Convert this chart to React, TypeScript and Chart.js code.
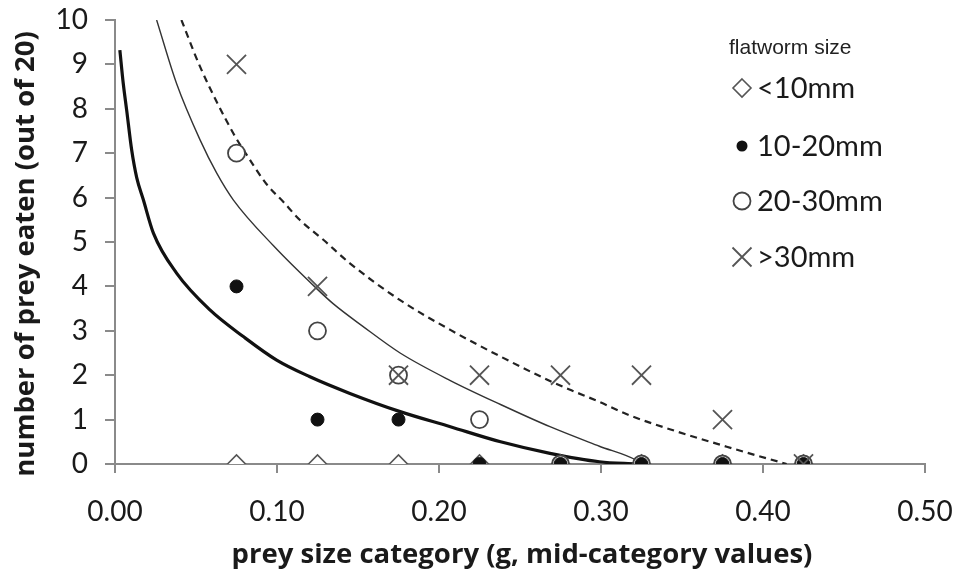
import React, { useEffect, useRef } from "react";
import { Chart, registerables } from "chart.js";

Chart.register(...registerables);

// Scatter data (prey size category mid values, g)
const preySize = [0.075, 0.125, 0.175, 0.225, 0.275, 0.325, 0.375, 0.425];
const eatenLt10 = [0, 0, 0, 0, 0, 0, 0, 0];
const eaten10to20 = [4, 1, 1, 0, 0, 0, 0, 0];
const eaten20to30 = [7, 3, 2, 1, 0, 0, 0, 0];
const eatenGt30 = [9, 4, 2, 2, 2, 2, 1, 0];

const seriesLabels = ["<10mm", "10-20mm", "20-30mm", ">30mm"];
const legendTitle = "flatworm size";
const xTitle = "prey size category (g, mid-category values)";
const yTitle = "number of prey eaten (out of 20)";

// Trend curves
const thickX = [0.003, 0.0051, 0.0072, 0.0103, 0.0134, 0.0175, 0.0237, 0.038, 0.0586, 0.0792, 0.0998, 0.12, 0.145, 0.176, 0.207, 0.238, 0.2685, 0.299, 0.322];
const thickY = [9.32, 8.57, 7.97, 7.07, 6.45, 5.95, 5.2, 4.3, 3.47, 2.87, 2.34, 1.97, 1.59, 1.18, 0.84, 0.5, 0.24, 0.05, 0];

const thinX = [0.0257, 0.038, 0.0525, 0.0628, 0.073, 0.0977, 0.1245, 0.135, 0.153, 0.176, 0.207, 0.238, 0.2685, 0.299, 0.322, 0.325];
const thinY = [10, 8.57, 7.3, 6.55, 5.95, 4.92, 3.95, 3.6, 3.1, 2.5, 1.88, 1.34, 0.84, 0.4, 0.08, 0];

const dashX = [0.041, 0.0525, 0.073, 0.0833, 0.0936, 0.104, 0.114, 0.1286, 0.145, 0.176, 0.207, 0.238, 0.2685, 0.281, 0.299, 0.316, 0.347, 0.3776, 0.402, 0.4146];
const dashY = [10, 8.95, 7.45, 6.85, 6.3, 5.9, 5.5, 5.05, 4.52, 3.69, 3.02, 2.42, 1.87, 1.67, 1.4, 1.12, 0.73, 0.39, 0.13, 0];

const xTicks = [0, 0.1, 0.2, 0.3, 0.4, 0.5];

const zip = (xs: number[], ys: number[]) => xs.map((x, i) => ({ x, y: ys[i] }));

const FONT = "Lato, 'Open Sans', sans-serif";

function drawMarker(ctx: CanvasRenderingContext2D, kind: string, x: number, y: number) {
  ctx.save();
  ctx.beginPath();
  if (kind === "diamond") {
    const r = 9;
    ctx.moveTo(x, y - r);
    ctx.lineTo(x + r, y);
    ctx.lineTo(x, y + r);
    ctx.lineTo(x - r, y);
    ctx.closePath();
    ctx.fillStyle = "#fff";
    ctx.fill();
    ctx.strokeStyle = "#555";
    ctx.lineWidth = 1.6;
    ctx.stroke();
  } else if (kind === "dot") {
    ctx.arc(x, y, 5.5, 0, Math.PI * 2);
    ctx.fillStyle = "#111";
    ctx.fill();
  } else if (kind === "circle") {
    ctx.arc(x, y, 8.5, 0, Math.PI * 2);
    ctx.fillStyle = "#fff";
    ctx.fill();
    ctx.strokeStyle = "#444";
    ctx.lineWidth = 1.8;
    ctx.stroke();
  } else {
    const r = 9.5;
    ctx.moveTo(x - r, y - r);
    ctx.lineTo(x + r, y + r);
    ctx.moveTo(x + r, y - r);
    ctx.lineTo(x - r, y + r);
    ctx.strokeStyle = "#555";
    ctx.lineWidth = 1.8;
    ctx.stroke();
  }
  ctx.restore();
}

const decorPlugin = {
  id: "flatwormDecor",
  afterDraw(chart: any) {
    const ctx: CanvasRenderingContext2D = chart.ctx;
    const area = chart.chartArea;
    ctx.save();
    // axis titles
    ctx.fillStyle = "#1a1a1a";
    ctx.textAlign = "center";
    ctx.textBaseline = "middle";
    ctx.font = "bold 27.5px 'Open Sans', Lato, sans-serif";
    ctx.fillText(xTitle, (area.left + area.right) / 2 + 2, area.bottom + 91);
    ctx.save();
    ctx.font = "bold 27.5px 'Open Sans', Lato, sans-serif";
    ctx.translate(area.left - 89, (area.top + area.bottom) / 2 + 12);
    ctx.rotate(-Math.PI / 2);
    ctx.fillText(yTitle, 0, 0);
    ctx.restore();

    // legend
    const baseX = area.right - 183;
    ctx.fillStyle = "#222";
    ctx.textAlign = "left";
    ctx.font = "21px 'Liberation Sans', Arial, sans-serif";
    ctx.fillText(legendTitle, baseX - 13, area.top + 28);
    const kinds = ["diamond", "dot", "circle", "cross"];
    const rowY = [68, 126, 181, 237];
    ctx.font = `29px ${FONT}`;
    seriesLabels.forEach((label, i) => {
      const y = area.top + rowY[i];
      drawMarker(ctx, kinds[i], baseX, y);
      ctx.fillStyle = "#1a1a1a";
      ctx.fillText(label, baseX + 15, y + 1);
    });
    ctx.restore();
  },
};

export default function App() {
  const ref = useRef<HTMLCanvasElement>(null);

  useEffect(() => {
    if (!ref.current) return;
    // Chart.js draws lower dataset indexes on top
    const chart = new Chart(ref.current, {
      type: "scatter",
      data: {
        datasets: [
          {
            label: seriesLabels[3],
            data: zip(preySize, eatenGt30),
            pointStyle: "crossRot",
            pointRadius: 13.5,
            borderColor: "#555",
            borderWidth: 1.8,
          },
          {
            label: seriesLabels[1],
            data: zip(preySize, eaten10to20),
            pointStyle: "circle",
            pointRadius: 6.5,
            backgroundColor: "#111",
            borderColor: "#111",
            borderWidth: 1,
          },
          {
            label: seriesLabels[2],
            data: zip(preySize, eaten20to30),
            pointStyle: "circle",
            pointRadius: 8.5,
            backgroundColor: "#fff",
            borderColor: "#444",
            borderWidth: 1.8,
          },
          {
            label: seriesLabels[0],
            data: zip(preySize, eatenLt10),
            pointStyle: "rectRot",
            pointRadius: 9,
            backgroundColor: "#fff",
            borderColor: "#555",
            borderWidth: 1.6,
          },
          {
            type: "line",
            label: "fit 10-20mm",
            data: zip(thickX, thickY),
            borderColor: "#111",
            borderWidth: 3.2,
            pointRadius: 0,
            cubicInterpolationMode: "monotone",
            fill: false,
          },
          {
            type: "line",
            label: "fit 20-30mm",
            data: zip(thinX, thinY),
            borderColor: "#333",
            borderWidth: 1.4,
            pointRadius: 0,
            cubicInterpolationMode: "monotone",
            fill: false,
          },
          {
            type: "line",
            label: "fit >30mm",
            data: zip(dashX, dashY),
            borderColor: "#222",
            borderWidth: 2.2,
            borderDash: [7, 5],
            pointRadius: 0,
            cubicInterpolationMode: "monotone",
            fill: false,
          },
        ],
      },
      options: {
        responsive: false,
        animation: false,
        layout: { autoPadding: false, padding: { top: 20, right: 39, left: 0, bottom: 0 } },
        plugins: {
          legend: { display: false },
          tooltip: { enabled: false },
        },
        scales: {
          x: {
            type: "linear",
            min: 0,
            max: 0.5,
            afterFit: (s: any) => {
              s.height = 108;
              s.paddingLeft = 0;
              s.paddingRight = 0;
            },
            afterBuildTicks: (s: any) => {
              s.ticks = xTicks.map((v) => ({ value: v }));
            },
            ticks: {
              font: { family: FONT, size: 28 },
              color: "#1a1a1a",
              padding: 22,
              maxRotation: 0,
              callback: (v: any) => Number(v).toFixed(2),
            },
            grid: {
              display: true,
              drawOnChartArea: false,
              drawTicks: true,
              tickLength: 9,
              color: "#8a8a8a",
              lineWidth: 2,
            },
            border: { display: true, color: "#8a8a8a", width: 2 },
          },
          y: {
            type: "linear",
            min: 0,
            max: 10,
            afterFit: (s: any) => {
              s.width = 115;
              s.paddingTop = 0;
              s.paddingBottom = 0;
            },
            ticks: {
              stepSize: 1,
              font: { family: FONT, size: 28 },
              color: "#1a1a1a",
              padding: 17,
            },
            grid: {
              display: true,
              drawOnChartArea: false,
              drawTicks: true,
              tickLength: 10,
              color: "#8a8a8a",
              lineWidth: 2,
            },
            border: { display: true, color: "#8a8a8a", width: 2 },
          },
        },
      },
      plugins: [decorPlugin],
    } as any);
    return () => chart.destroy();
  }, []);

  return (
    <div style={{ position: "fixed", left: 0, top: 0, width: 964, height: 572, background: "#fff" }}>
      <canvas ref={ref} width={964} height={572} style={{ display: "block", width: 964, height: 572 }} />
    </div>
  );
}
